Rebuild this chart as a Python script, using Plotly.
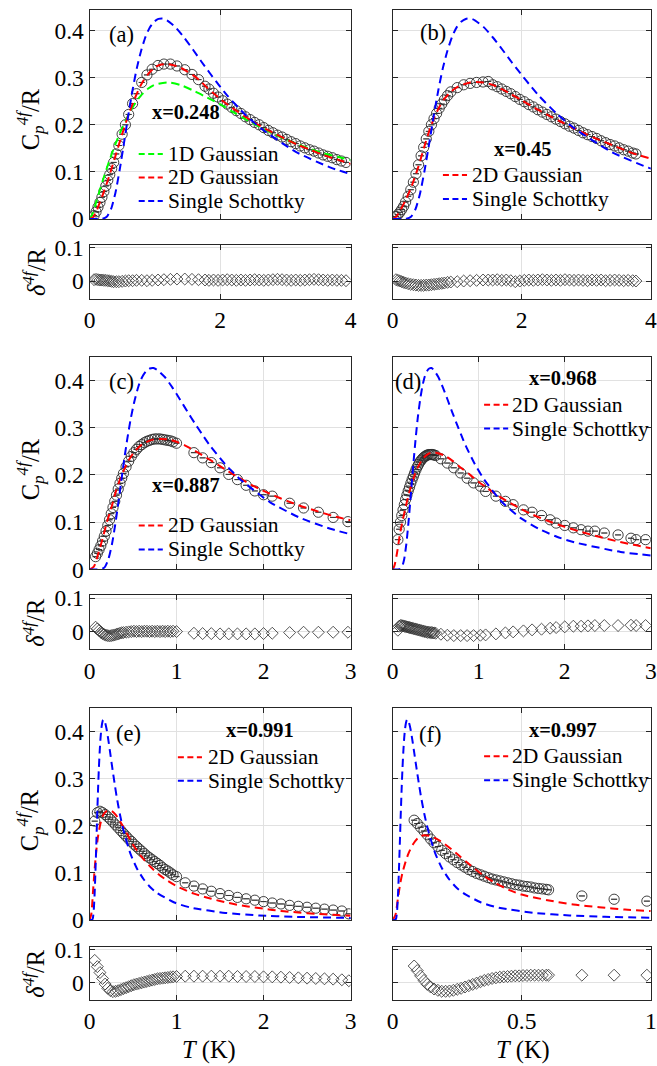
import plotly.graph_objects as go

# ---------------- data ----------------
# Shared single-Schottky profile heights (C/R) for the blue curves
schottky_C = [0, 0, 0.0003, 0.0044, 0.021, 0.0547, 0.104, 0.161, 0.22, 0.274,
              0.321, 0.358, 0.387, 0.407, 0.419, 0.425, 0.426, 0.422, 0.407, 0.385,
              0.36, 0.334, 0.309, 0.285, 0.262, 0.223, 0.191, 0.142, 0.109, 0.086,
              0.069, 0.057, 0.037, 0.026, 0.015, 0.0096, 0.0067, 0.0038]

# (a) x = 0.248
a_T = [0.07, 0.10, 0.13, 0.16, 0.19, 0.22, 0.25, 0.28, 0.31, 0.34, 0.37, 0.41, 0.45, 0.50, 0.55, 0.60,
       0.66, 0.72, 0.80, 0.88, 0.96, 1.05, 1.14, 1.24, 1.34, 1.46, 1.57, 1.67, 1.77,
       1.83, 1.90, 1.97, 2.04, 2.11, 2.18, 2.25, 2.32, 2.39, 2.46, 2.53, 2.60, 2.67, 2.74, 2.81, 2.88,
       2.95, 3.02, 3.09, 3.16, 3.23, 3.30, 3.37, 3.44, 3.51, 3.58, 3.65, 3.72, 3.79, 3.86, 3.93]
a_C = [0.007, 0.015, 0.025, 0.035, 0.046, 0.058, 0.070, 0.082, 0.094, 0.107, 0.120, 0.138, 0.156, 0.180, 0.200, 0.222,
       0.245, 0.266, 0.290, 0.306, 0.318, 0.326, 0.329, 0.329, 0.325, 0.317, 0.307, 0.296, 0.282,
       0.276, 0.267, 0.259, 0.251, 0.244, 0.237, 0.230, 0.224, 0.217, 0.211, 0.205, 0.200, 0.194, 0.188, 0.183, 0.178,
       0.174, 0.169, 0.164, 0.160, 0.155, 0.151, 0.147, 0.144, 0.140, 0.136, 0.133, 0.130, 0.126, 0.123, 0.120]
a_res = [0.004, 0.005, 0.004, 0.003, 0.003, 0.002, 0.002, 0.001, 0.0, -0.001, -0.002, -0.002, -0.002, -0.001, 0.0, 0.001,
         0.001, 0.002, 0.002, 0.001, 0.002, 0.003, 0.004, 0.005, 0.006, 0.006, 0.005, 0.004, 0.003,
         0.002, 0.003, 0.002, 0.003, 0.004, 0.003, 0.002, 0.003, 0.002, 0.003, 0.004, 0.003, 0.002, 0.003, 0.004, 0.005,
         0.004, 0.003, 0.002, 0.003, 0.002, 0.003, 0.004, 0.005, 0.004, 0.003, 0.002, 0.003, 0.002, 0.002, 0.001]
a_red_T = [0, 0.05, 0.1, 0.2, 0.3, 0.4, 0.5, 0.6, 0.7, 0.8, 0.9, 1.0, 1.1, 1.2, 1.3, 1.4, 1.5, 1.6, 1.7, 1.8,
           1.9, 2.0, 2.2, 2.4, 2.6, 2.8, 3.0, 3.2, 3.4, 3.6, 3.8, 4.0]
a_red_C = [0, 0.003, 0.015, 0.05, 0.09, 0.135, 0.18, 0.222, 0.258, 0.288, 0.308, 0.322, 0.328, 0.329, 0.326, 0.321,
           0.313, 0.304, 0.293, 0.279, 0.267, 0.255, 0.235, 0.216, 0.199, 0.184, 0.170, 0.157, 0.146, 0.135, 0.126, 0.117]
a_green_T = [0, 0.05, 0.1, 0.2, 0.3, 0.4, 0.5, 0.6, 0.7, 0.8, 0.9, 1.0, 1.2, 1.4, 1.6, 1.8, 2.0, 2.2, 2.4, 2.6,
             2.8, 3.0, 3.2, 3.4, 3.6, 3.8, 4.0]
a_green_C = [0, 0.012, 0.035, 0.08, 0.122, 0.16, 0.193, 0.222, 0.246, 0.264, 0.277, 0.285, 0.29, 0.284, 0.272, 0.258,
             0.244, 0.227, 0.211, 0.196, 0.182, 0.169, 0.158, 0.148, 0.139, 0.132, 0.125]
a_blue_T = [0, 0.132, 0.198, 0.264, 0.33, 0.396, 0.462, 0.528, 0.594, 0.66, 0.726, 0.792, 0.858, 0.924, 0.99, 1.056,
            1.122, 1.188, 1.32, 1.452, 1.584, 1.716, 1.848, 1.98, 2.112, 2.376, 2.64, 3.168, 3.696, 4.224]

# (b) x = 0.45
b_T = [0.05, 0.08, 0.11, 0.14, 0.17, 0.20, 0.24, 0.28, 0.32, 0.36, 0.40, 0.44, 0.48, 0.52, 0.56, 0.60, 0.64, 0.68,
       0.72, 0.76, 0.80, 0.85, 0.90,
       1.00, 1.10, 1.20, 1.30, 1.40, 1.48,
       1.55, 1.62, 1.69, 1.76, 1.83, 1.90, 1.97, 2.04, 2.11, 2.18, 2.25, 2.32, 2.39, 2.46, 2.53, 2.60, 2.67, 2.74,
       2.81, 2.88, 2.95, 3.02, 3.09, 3.16, 3.23, 3.30, 3.37, 3.44, 3.51, 3.58, 3.65, 3.72, 3.77]
b_C = [0.005, 0.009, 0.014, 0.020, 0.027, 0.036, 0.048, 0.062, 0.078, 0.096, 0.115, 0.134, 0.152, 0.170, 0.186, 0.200,
       0.213, 0.224, 0.235, 0.244, 0.253, 0.262, 0.270,
       0.279, 0.285, 0.288, 0.290, 0.291, 0.292,
       0.285, 0.281, 0.276, 0.271, 0.266, 0.260, 0.254, 0.249, 0.243, 0.238, 0.232, 0.227, 0.222, 0.217, 0.212, 0.207,
       0.202, 0.197, 0.193, 0.188, 0.183, 0.179, 0.175, 0.171, 0.166, 0.162, 0.158, 0.155, 0.151, 0.147, 0.144, 0.140, 0.138]
b_res = [0.004, 0.002, 0.0, -0.002, -0.004, -0.006, -0.008, -0.01, -0.011, -0.012, -0.013, -0.013, -0.013, -0.012,
         -0.012, -0.011, -0.01, -0.009, -0.008, -0.007, -0.006, -0.004, -0.003,
         -0.002, 0.0, 0.001, 0.002, 0.003, 0.003,
         0.003, 0.004, 0.002, 0.003, 0.001, -0.002, 0.0, 0.002, 0.003, 0.002, 0.003, 0.004, 0.003, 0.002, 0.003, 0.002,
         0.004, 0.003, 0.002, 0.003, 0.002, 0.001, 0.003, 0.002, 0.003, 0.001, 0.002, 0.003, 0.002, 0.001, 0.002, 0.001, 0.0]
b_red_T = [0, 0.05, 0.1, 0.2, 0.3, 0.4, 0.5, 0.6, 0.7, 0.8, 0.9, 1.0, 1.1, 1.2, 1.3, 1.4, 1.5, 1.6, 1.8, 2.0,
           2.2, 2.4, 2.6, 2.8, 3.0, 3.2, 3.4, 3.6, 3.8, 4.0]
b_red_C = [0, 0.004, 0.014, 0.04, 0.072, 0.112, 0.158, 0.2, 0.232, 0.255, 0.27, 0.28, 0.286, 0.29, 0.291, 0.29,
           0.287, 0.282, 0.268, 0.252, 0.236, 0.221, 0.207, 0.193, 0.18, 0.168, 0.157, 0.146, 0.136, 0.128]
b_blue_T = [0, 0.1415, 0.212, 0.283, 0.354, 0.4245, 0.495, 0.566, 0.637, 0.7075, 0.778, 0.849, 0.92, 0.9905, 1.061,
            1.132, 1.203, 1.2735, 1.415, 1.5565, 1.698, 1.8395, 1.981, 2.1225, 2.264, 2.547, 2.83, 3.396, 3.962, 4.528]

# (c) x = 0.887
c_T = [0.07, 0.09, 0.11, 0.13, 0.15, 0.17, 0.19, 0.21, 0.23, 0.25,
       0.27, 0.29, 0.31, 0.33, 0.35, 0.37, 0.39, 0.42, 0.45, 0.48,
       0.51, 0.54, 0.57, 0.60, 0.63, 0.66, 0.69, 0.72, 0.75, 0.78,
       0.81, 0.84, 0.87, 0.90, 0.93, 0.96, 1.00,
       1.20, 1.30, 1.40, 1.50, 1.60, 1.70, 1.80, 1.90, 2.00, 2.10,
       2.30, 2.46, 2.63, 2.80, 2.97]
c_C = [0.027, 0.034, 0.042, 0.050, 0.060, 0.070, 0.081, 0.093, 0.105, 0.118,
       0.131, 0.144, 0.157, 0.170, 0.182, 0.193, 0.203, 0.217, 0.229, 0.239,
       0.247, 0.254, 0.260, 0.264, 0.268, 0.271, 0.273, 0.275, 0.276, 0.276,
       0.276, 0.275, 0.274, 0.273, 0.272, 0.270, 0.267,
       0.247, 0.236, 0.226, 0.215, 0.201, 0.190, 0.178, 0.166, 0.158, 0.155,
       0.140, 0.130, 0.121, 0.110, 0.101]
c_res = [0.013, 0.008, 0.003, -0.002, -0.006, -0.009, -0.011, -0.012, -0.013, -0.012,
         -0.011, -0.010, -0.008, -0.007, -0.005, -0.004, -0.003, -0.002, -0.001, 0.0,
         0.001, 0.0, 0.001, 0.0, 0.001, 0.001, 0.0, 0.001, 0.0, 0.001,
         0.0, 0.001, 0.0, 0.001, 0.0, 0.001, 0.0,
         -0.005, -0.006, -0.006, -0.007, -0.007, -0.007, -0.007, -0.007, -0.006, -0.005,
         -0.003, -0.002, -0.002, -0.002, -0.002]
c_red_T = [0, 0.05, 0.1, 0.15, 0.2, 0.25, 0.3, 0.35, 0.4, 0.45, 0.5, 0.6, 0.7, 0.8, 0.9, 1.0, 1.1, 1.2, 1.4, 1.6,
           1.8, 2.0, 2.2, 2.4, 2.6, 2.8, 3.0]
c_red_C = [0, 0.006, 0.033, 0.065, 0.1, 0.13, 0.163, 0.19, 0.212, 0.231, 0.245, 0.264, 0.273, 0.276, 0.275, 0.27,
           0.262, 0.252, 0.23, 0.207, 0.185, 0.166, 0.15, 0.136, 0.124, 0.113, 0.104]
c_blue_T = [0, 0.0865, 0.13, 0.173, 0.216, 0.2595, 0.303, 0.346, 0.389, 0.4325, 0.476, 0.519, 0.562, 0.6055, 0.649,
            0.692, 0.735, 0.7785, 0.865, 0.9515, 1.038, 1.1245, 1.211, 1.2975, 1.384, 1.557, 1.73, 2.076, 2.422,
            2.768, 3.114]

# (d) x = 0.968
d_T = [0.06, 0.075, 0.09, 0.105, 0.12, 0.135, 0.15, 0.165, 0.18, 0.195,
       0.21, 0.225, 0.24, 0.255, 0.27, 0.285, 0.3, 0.315, 0.33, 0.345,
       0.36, 0.375, 0.39, 0.405, 0.42, 0.435, 0.45, 0.465, 0.48, 0.5,
       0.56, 0.635, 0.71, 0.79, 0.865, 0.94, 1.02, 1.08,
       1.2, 1.31, 1.4, 1.52, 1.62, 1.73, 1.83, 1.9, 2.0, 2.1,
       2.19, 2.27, 2.35, 2.46, 2.62, 2.77, 2.83, 2.94]
d_C = [0.063, 0.085, 0.100, 0.114, 0.126, 0.137, 0.148, 0.157, 0.166, 0.174,
       0.182, 0.19, 0.197, 0.204, 0.211, 0.217, 0.222, 0.227, 0.231, 0.234,
       0.237, 0.239, 0.241, 0.242, 0.243, 0.243, 0.243, 0.243, 0.242, 0.241,
       0.234, 0.225, 0.215, 0.204, 0.193, 0.183, 0.176, 0.165,
       0.155, 0.144, 0.137, 0.126, 0.121, 0.114, 0.105, 0.098, 0.093, 0.088,
       0.084, 0.081, 0.081, 0.077, 0.073, 0.066, 0.063, 0.063]
d_res = [0.004, 0.016, 0.018, 0.018, 0.017, 0.016, 0.015, 0.014, 0.013, 0.012,
         0.011, 0.010, 0.009, 0.008, 0.007, 0.006, 0.005, 0.004, 0.003, 0.002,
         0.001, 0.0, -0.001, -0.002, -0.002, -0.003, -0.003, -0.004, -0.004, -0.005,
         -0.008, -0.011, -0.012, -0.012, -0.012, -0.012, -0.011, -0.010,
         -0.007, -0.004, -0.001, 0.002, 0.005, 0.007, 0.01, 0.012, 0.014, 0.016,
         0.016, 0.017, 0.018, 0.018, 0.018, 0.019, 0.018, 0.018]
d_red_T = [0, 0.02, 0.05, 0.08, 0.1, 0.15, 0.2, 0.25, 0.3, 0.35, 0.4, 0.45, 0.5, 0.6, 0.7, 0.8, 0.9, 1.0, 1.1, 1.2,
           1.4, 1.6, 1.8, 2.0, 2.2, 2.4, 2.6, 2.8, 3.0]
d_red_C = [0, 0.008, 0.035, 0.07, 0.09, 0.132, 0.168, 0.197, 0.219, 0.234, 0.243, 0.247, 0.247, 0.241, 0.229, 0.214,
           0.2, 0.185, 0.172, 0.159, 0.137, 0.118, 0.103, 0.09, 0.079, 0.069, 0.06, 0.052, 0.045]
d_blue_T = [0, 0.053, 0.0795, 0.106, 0.1325, 0.159, 0.1855, 0.212, 0.2385, 0.265, 0.2915, 0.318, 0.3445, 0.371,
            0.3975, 0.424, 0.4505, 0.477, 0.53, 0.583, 0.636, 0.689, 0.742, 0.795, 0.848, 0.954, 1.06, 1.272, 1.484,
            1.696, 1.908, 2.12, 2.65, 3.18]

# (e) x = 0.991
e_T = [0.06, 0.09, 0.12, 0.15, 0.18, 0.21, 0.24, 0.27, 0.30, 0.33,
       0.36, 0.39, 0.42, 0.45, 0.48, 0.51, 0.54, 0.57, 0.60, 0.63,
       0.66, 0.69, 0.72, 0.75, 0.78, 0.81, 0.84, 0.87, 0.90, 0.93,
       0.96, 1.00,
       1.1, 1.2, 1.3, 1.4, 1.5, 1.6, 1.7, 1.8, 1.9, 2.0,
       2.1, 2.2, 2.3, 2.4, 2.5, 2.6, 2.7, 2.8, 2.9, 2.98]
e_C = [0.21, 0.228, 0.231, 0.228, 0.224, 0.219, 0.214, 0.208, 0.202, 0.196,
       0.190, 0.184, 0.178, 0.172, 0.167, 0.161, 0.156, 0.151, 0.146, 0.141,
       0.136, 0.132, 0.128, 0.124, 0.120, 0.116, 0.111, 0.107, 0.104, 0.100,
       0.096, 0.092,
       0.079, 0.072, 0.066, 0.061, 0.056, 0.052, 0.048, 0.045, 0.042, 0.039,
       0.036, 0.034, 0.031, 0.029, 0.027, 0.025, 0.023, 0.021, 0.019, 0.013]
e_res = [0.067, 0.048, 0.03, 0.012, -0.005, -0.018, -0.025, -0.028, -0.027, -0.025,
         -0.022, -0.019, -0.016, -0.013, -0.01, -0.007, -0.005, -0.003, -0.001, 0.001,
         0.003, 0.005, 0.007, 0.009, 0.011, 0.012, 0.013, 0.014, 0.015, 0.016,
         0.017, 0.018,
         0.019, 0.019, 0.019, 0.019, 0.019, 0.019, 0.018, 0.018, 0.018, 0.017,
         0.017, 0.016, 0.015, 0.014, 0.013, 0.012, 0.011, 0.010, 0.008, 0.005]
e_red_T = [0, 0.02, 0.04, 0.06, 0.08, 0.1, 0.13, 0.16, 0.2, 0.25, 0.3, 0.35, 0.4, 0.45, 0.5, 0.6, 0.7, 0.8, 0.9,
           1.0, 1.2, 1.4, 1.6, 1.8, 2.0, 2.2, 2.4, 2.6, 2.8, 3.0]
e_red_C = [0, 0.012, 0.06, 0.11, 0.15, 0.18, 0.208, 0.224, 0.232, 0.232, 0.224, 0.21, 0.194, 0.177, 0.16, 0.134,
           0.113, 0.096, 0.083, 0.072, 0.056, 0.045, 0.036, 0.029, 0.024, 0.019, 0.016, 0.013, 0.011, 0.009]
e_blue_T = [0, 0.0195, 0.02925, 0.039, 0.04875, 0.0585, 0.06825, 0.078, 0.08775, 0.0975, 0.10725, 0.117, 0.12675,
            0.1365, 0.14625, 0.156, 0.16575, 0.1755, 0.195, 0.2145, 0.234, 0.2535, 0.273, 0.2925, 0.312, 0.351,
            0.39, 0.468, 0.546, 0.624, 0.702, 0.78, 0.975, 1.17, 1.56, 1.95, 2.34, 3.12]

# (f) x = 0.997
f_T = [0.083, 0.095, 0.108, 0.121, 0.134, 0.147, 0.16, 0.175, 0.19, 0.205,
       0.22, 0.235, 0.25, 0.265, 0.28, 0.295, 0.31, 0.325, 0.34, 0.355,
       0.37, 0.385, 0.4, 0.415, 0.43, 0.445, 0.46, 0.475, 0.49, 0.505,
       0.52, 0.535, 0.55, 0.565, 0.58, 0.595, 0.604,
       0.733, 0.858, 0.985]
f_C = [0.212, 0.205, 0.197, 0.189, 0.181, 0.172, 0.164, 0.156, 0.148, 0.141,
       0.134, 0.128, 0.122, 0.117, 0.112, 0.107, 0.103, 0.099, 0.096, 0.093,
       0.090, 0.087, 0.085, 0.083, 0.081, 0.079, 0.077, 0.075, 0.074, 0.072,
       0.071, 0.070, 0.068, 0.067, 0.066, 0.065, 0.064,
       0.051, 0.044, 0.040]
f_res = [0.05, 0.036, 0.02, 0.006, -0.006, -0.014, -0.02, -0.024, -0.027, -0.027,
         -0.026, -0.024, -0.021, -0.018, -0.014, -0.01, -0.006, -0.002, 0.002, 0.006,
         0.009, 0.012, 0.014, 0.016, 0.017, 0.018, 0.019, 0.02, 0.02, 0.021,
         0.021, 0.022, 0.022, 0.022, 0.022, 0.022, 0.022,
         0.022, 0.022, 0.022]
f_red_T = [0, 0.01, 0.02, 0.03, 0.04, 0.06, 0.08, 0.1, 0.12, 0.14, 0.16, 0.18, 0.2, 0.25, 0.3, 0.35, 0.4, 0.45,
           0.5, 0.6, 0.7, 0.8, 0.9, 1.0]
f_red_C = [0, 0.01, 0.045, 0.08, 0.105, 0.14, 0.162, 0.175, 0.18, 0.179, 0.175, 0.169, 0.162, 0.14, 0.117, 0.095,
           0.078, 0.064, 0.054, 0.042, 0.033, 0.027, 0.022, 0.019]
f_blue_T = [0, 0.00685, 0.0103, 0.0137, 0.0171, 0.02055, 0.024, 0.0274, 0.0308, 0.03425, 0.0377, 0.0411, 0.0445,
            0.04795, 0.0514, 0.0548, 0.0582, 0.06165, 0.0685, 0.07535, 0.0822, 0.08905, 0.0959, 0.10275, 0.1096,
            0.1233, 0.137, 0.1644, 0.1918, 0.2192, 0.2466, 0.274, 0.3425, 0.411, 0.548, 0.685, 0.822, 1.096]

labels = ["(a)", "(b)", "(c)", "(d)", "(e)", "(f)"]
conc = ["x=0.248", "x=0.45", "x=0.887", "x=0.968", "x=0.991", "x=0.997"]
x_ranges = [[0, 4], [0, 4], [0, 3], [0, 3], [0, 3], [0, 1]]
x_ticks = [[0, 2, 4], [0, 2, 4], [0, 1, 2, 3], [0, 1, 2, 3], [0, 1, 2, 3], [0, 0.5, 1]]
x_ticktext = [["0", "2", "4"], ["0", "2", "4"], ["0", "1", "2", "3"], ["0", "1", "2", "3"],
              ["0", "1", "2", "3"], ["0", "0.5", "1"]]
main_yticks = [0, 0.1, 0.2, 0.3, 0.4]
main_ytext = ["0", "0.1", "0.2", "0.3", "0.4"]
res_yticks = [0, 0.1]
res_ytext = ["0", "0.1"]

panels = [
    dict(T=a_T, C=a_C, R=a_res, red=(a_red_T, a_red_C), green=(a_green_T, a_green_C), blue_T=a_blue_T),
    dict(T=b_T, C=b_C, R=b_res, red=(b_red_T, b_red_C), green=None, blue_T=b_blue_T),
    dict(T=c_T, C=c_C, R=c_res, red=(c_red_T, c_red_C), green=None, blue_T=c_blue_T),
    dict(T=d_T, C=d_C, R=d_res, red=(d_red_T, d_red_C), green=None, blue_T=d_blue_T),
    dict(T=e_T, C=e_C, R=e_res, red=(e_red_T, e_red_C), green=None, blue_T=e_blue_T),
    dict(T=f_T, C=f_C, R=f_res, red=(f_red_T, f_red_C), green=None, blue_T=f_blue_T),
]

# ---------------- layout geometry ----------------
# Positions below are measured on the reference picture; they are mapped to figure pixels
# through the page margin (OFF) and the capture scale observed for this page (SX, SY).
OFF = 8
SX, SY = 0.978, 0.980
W, H = 664, 1080
SERIF = "Liberation Serif"
AXCOL = "#262626"
GRID = "#e1e1e1"
MK = "#2b2b2b"
RED, BLUE, GREEN = "#ff0000", "#0000ff", "#00ff00"
FS = 1 / 0.979   # font / marker size compensation

def fx(X):
    return X / SX - OFF

def fy(Y):
    return Y / SY - OFF

def px(X):
    return min(max(fx(X) / W, 0.0), 1.0)

def py(Y):
    return min(max(1 - fy(Y) / H, 0.0), 1.0)

col_px = [(91, 351), (393, 650)]
row_main_px = [(5, 217), (355, 568), (707, 919)]
row_res_px = [(243, 297), (594, 648), (946, 999)]

def xdom(c):
    a, b = col_px[c]
    return [px(a), px(b)]

def ydom(rng):
    top, bot = rng
    return [py(bot), py(top)]

label_pos = [(123, 32), (433, 30), (123, 380), (408, 380), (130, 732), (430, 733)]
conc_pos = [(187, 110), (523, 147), (187, 483), (563, 376), (261, 729), (563, 729)]
# legend: (sample start x, text start x, first row y, row step) in reference pixels
legend_pos = [(140, 167, 152, 23.5), (443, 470, 173, 24), (140, 167, 524, 24),
              (484, 510, 403, 24), (179, 207, 756, 23.5), (484, 510, 755, 24)]

fig = go.Figure()
layout = dict(width=W, height=H, margin=dict(l=0, r=0, t=0, b=0),
              paper_bgcolor="white", plot_bgcolor="white", showlegend=False,
              font=dict(family=SERIF, size=21, color="black"))
annotations = []
shapes = []

def axname(i, kind):
    return kind if i == 1 else f"{kind}{i}"

def axkey(i, kind):
    return f"{kind}axis" if i == 1 else f"{kind}axis{i}"

common_axis = dict(showline=True, linecolor=AXCOL, linewidth=1.1, mirror="ticks",
                   ticks="inside", ticklen=5, tickwidth=1, tickcolor=AXCOL,
                   showgrid=True, gridcolor=GRID, gridwidth=1, zeroline=False,
                   tickfont=dict(family=SERIF, size=round(23 * FS, 1), color="black"))

CURVE_DASH = "8px,5px"

for p, pan in enumerate(panels):
    c = p % 2
    r = p // 2
    im = 2 * p + 1
    ir = 2 * p + 2

    top, bot = row_main_px[r]
    dom = ydom(row_main_px[r])
    # if the panel top is clipped by the page edge, shorten the range so the scale stays right
    ytop = 0.45
    if fy(top) < 0:
        ytop = 0.45 * (fy(bot) - 0) / (fy(bot) - fy(top))

    layout[axkey(im, "x")] = dict(common_axis, domain=xdom(c), range=x_ranges[p], tickvals=x_ticks[p],
                                  showticklabels=False, anchor=axname(im, "y"))
    layout[axkey(im, "y")] = dict(common_axis, domain=dom, range=[0, ytop],
                                  tickvals=main_yticks, ticktext=main_ytext, showticklabels=(c == 0),
                                  anchor=axname(im, "x"))
    layout[axkey(ir, "x")] = dict(common_axis, domain=xdom(c), range=x_ranges[p], tickvals=x_ticks[p],
                                  ticktext=x_ticktext[p], showticklabels=True, anchor=axname(ir, "y"))
    layout[axkey(ir, "y")] = dict(common_axis, domain=ydom(row_res_px[r]), range=[-0.053, 0.108],
                                  tickvals=res_yticks, ticktext=res_ytext, showticklabels=(c == 0),
                                  anchor=axname(ir, "x"))

    xm, ym = axname(im, "x"), axname(im, "y")
    xr, yr = axname(ir, "x"), axname(ir, "y")

    # measured data (open circles)
    fig.add_trace(go.Scatter(x=pan["T"], y=pan["C"], mode="markers", xaxis=xm, yaxis=ym, name="data",
                             marker=dict(symbol="circle-open", size=10 * FS, color=MK,
                                         line=dict(width=0.9, color=MK)),
                             error_y=dict(type="constant", value=0, width=3, thickness=0.8, color=MK)))
    entries = []
    if pan["green"] is not None:
        gT, gC = pan["green"]
        fig.add_trace(go.Scatter(x=gT, y=gC, mode="lines", xaxis=xm, yaxis=ym, name="1D Gaussian",
                                 line=dict(color=GREEN, width=2, dash=CURVE_DASH, shape="spline", smoothing=0.8)))
        entries.append(("1D Gaussian", GREEN))
    rT, rC = pan["red"]
    fig.add_trace(go.Scatter(x=rT, y=rC, mode="lines", xaxis=xm, yaxis=ym, name="2D Gaussian",
                             line=dict(color=RED, width=2, dash=CURVE_DASH, shape="spline", smoothing=0.8)))
    entries.append(("2D Gaussian", RED))
    bT = pan["blue_T"]
    fig.add_trace(go.Scatter(x=bT, y=schottky_C[:len(bT)], mode="lines", xaxis=xm, yaxis=ym,
                             name="Single Schottky",
                             line=dict(color=BLUE, width=2, dash=CURVE_DASH, shape="spline", smoothing=0.6)))
    entries.append(("Single Schottky", BLUE))
    # residuals (open diamonds)
    fig.add_trace(go.Scatter(x=pan["T"], y=pan["R"], mode="markers", xaxis=xr, yaxis=yr, name="residual",
                             marker=dict(symbol="diamond-open", size=9 * FS, color=MK,
                                         line=dict(width=0.8, color=MK))))

    # legend (MATLAB-style, boxless)
    sx, tx, ly0, step = legend_pos[p]
    for k, (name, colr) in enumerate(entries):
        yy = py(ly0 + k * step)
        shapes.append(dict(type="line", xref="paper", yref="paper", x0=px(sx), x1=px(sx + 24),
                           y0=yy, y1=yy, line=dict(color=colr, width=2, dash="6px,3.5px")))
        annotations.append(dict(text=name, x=px(tx), y=yy, xref="paper", yref="paper", showarrow=False,
                                xanchor="left", yanchor="middle",
                                font=dict(family=SERIF, size=round(21 * FS, 1), color="black")))

    lx_, ly_ = label_pos[p]
    annotations.append(dict(text=labels[p], x=px(lx_), y=py(ly_), xref="paper", yref="paper",
                            showarrow=False, xanchor="center", yanchor="middle",
                            font=dict(family=SERIF, size=round(22 * FS, 1), color="black")))
    cx_, cy_ = conc_pos[p]
    annotations.append(dict(text="<b>" + conc[p] + "</b>", x=px(cx_), y=py(cy_), xref="paper",
                            yref="paper", showarrow=False, xanchor="center", yanchor="middle",
                            font=dict(family=SERIF, size=round(20 * FS, 1), color="black")))

# axis titles
for r in range(3):
    mt, mb = row_main_px[r]
    rt, rb = row_res_px[r]
    annotations.append(dict(text="C<sub><i>p</i></sub><sup><i>4f</i></sup>/R", x=px(32),
                            y=py((mt + mb) / 2 + 6),
                            xref="paper", yref="paper", showarrow=False, textangle=-90,
                            xanchor="center", yanchor="middle",
                            font=dict(family=SERIF, size=round(24 * FS, 1), color="black")))
    annotations.append(dict(text="<i>δ</i><sup><i>4f</i></sup>/R", x=px(36), y=py((rt + rb) / 2),
                            xref="paper", yref="paper", showarrow=False, textangle=-90,
                            xanchor="center", yanchor="middle",
                            font=dict(family=SERIF, size=round(24 * FS, 1), color="black")))
for xc in (210, 523):
    annotations.append(dict(text="<i>T</i> (K)", x=px(xc), y=py(1049), xref="paper", yref="paper",
                            showarrow=False, xanchor="center", yanchor="middle",
                            font=dict(family=SERIF, size=round(24 * FS, 1), color="black")))

layout["annotations"] = annotations
layout["shapes"] = shapes
fig.update_layout(**layout)
fig.write_html("out.html")
